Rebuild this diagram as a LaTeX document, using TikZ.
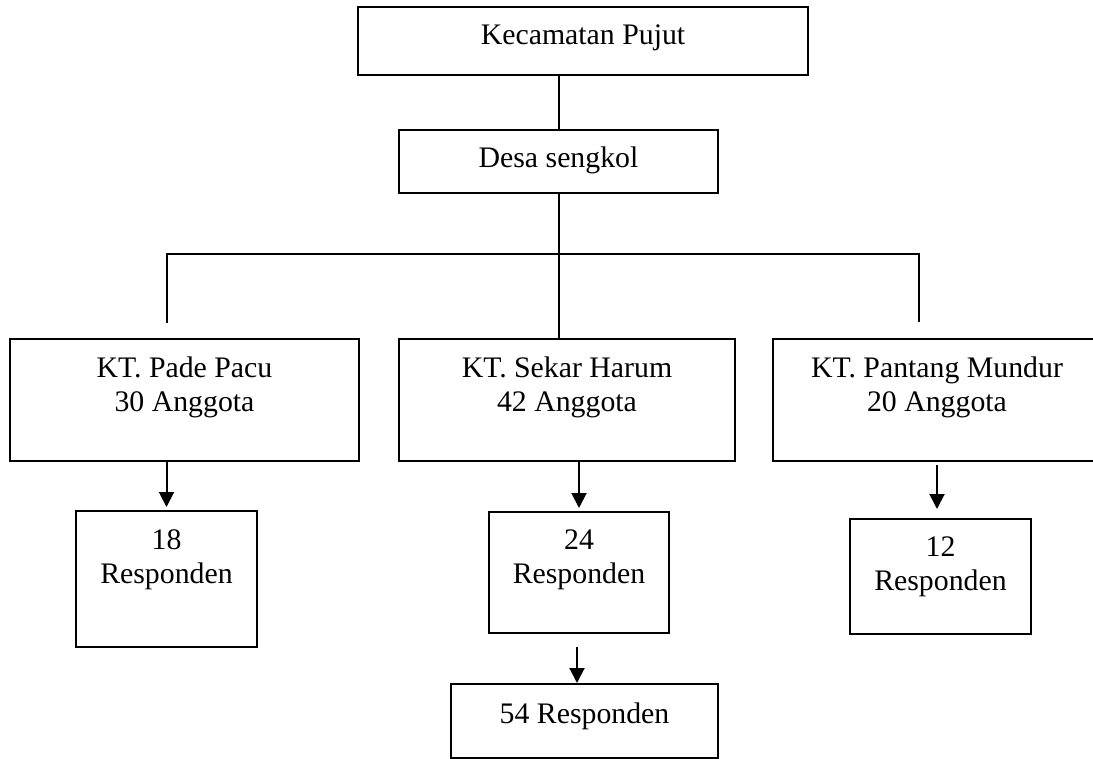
\documentclass[tikz,border=0pt]{standalone}
\usepackage{fontspec}
\setmainfont{Liberation Serif}
\usetikzlibrary{positioning, arrows.meta}

\tikzset{
  box/.style={draw, rectangle, line width=1pt, inner sep=0pt},
  txt/.style={inner sep=0pt, align=center, font=\fontsize{14.9}{17}\selectfont},
  link/.style={line width=1pt},
  arr/.style={line width=1pt, -{Triangle[length=7.5pt, width=7.5pt]}}
}

\begin{document}
\begin{tikzpicture}[x=0.5pt, y=-0.5pt]
  \useasboundingbox (0,0) rectangle (1093,759);

  %Boxes
  \node[box, minimum width=225pt, minimum height=34pt] at (583,41) (kec) {};
  \node[box, minimum width=159.5pt, minimum height=31.5pt] at (558.5,161.5) (desa) {};
  \node[box, minimum width=174.5pt, minimum height=61pt] at (184.5,400) (pade) {};
  \node[box, minimum width=168pt, minimum height=61pt] at (567,400) (sekar) {};
  \node[box, minimum width=164pt, minimum height=61pt] at (937,400) (pantang) {};
  \node[box, minimum width=90.5pt, minimum height=68pt] at (166.5,579) (r18) {};
  \node[box, minimum width=90pt, minimum height=60.5pt] at (579,572.5) (r24) {};
  \node[box, minimum width=90.5pt, minimum height=57.5pt] at (940.5,576.5) (r12) {};
  \node[box, minimum width=133.5pt, minimum height=37pt] at (584.5,721) (r54) {};

  %Texts
  \node[txt, below=9pt of kec.north] (kectxt) {Kecamatan Pujut};
  \node[txt, below=8.5pt of desa.north] (desatxt) {Desa sengkol};
  \node[txt, below=9pt of pade.north] (padetxt) {KT. Pade Pacu\\30 Anggota};
  \node[txt, below=9pt of sekar.north] (sekartxt) {KT. Sekar Harum\\42 Anggota};
  \node[txt, below=9pt of pantang.north] (pantangtxt) {KT. Pantang Mundur\\20 Anggota};
  \node[txt, below=9.5pt of r18.north] (r18txt) {18\\Responden};
  \node[txt, below=9pt of r24.north] (r24txt) {24\\Responden};
  \node[txt, below=9pt of r12.north] (r12txt) {12\\Responden};
  \node[txt, below=9.5pt of r54.north] (r54txt) {54 Responden};

  %Lines
  \coordinate (bl) at (167,254);
  \coordinate (br) at (919,254);
  \coordinate (blend) at (167,323);
  \coordinate (brend) at (919,322);
  \draw[link] (desa.north) -- (desa.north |- kec.south);
  \draw[link] (desa.south) -- (desa.south |- sekar.north);
  \draw[link] (blend) -- (bl) -- (br) -- (brend);

  %Arrows
  \coordinate (r24out) at (577,647);
  \coordinate (pantangout) at (937,465);
  \draw[arr, shorten >=1.5pt] (r18.north |- pade.south) -- (r18.north);
  \draw[arr, shorten >=1.5pt] (r24.north |- sekar.south) -- (r24.north);
  \draw[arr] (r24out) -- (r24out |- r54.north);
  \draw[arr, shorten >=4.5pt] (pantangout) -- (pantangout |- r12.north);
\end{tikzpicture}
\end{document}
